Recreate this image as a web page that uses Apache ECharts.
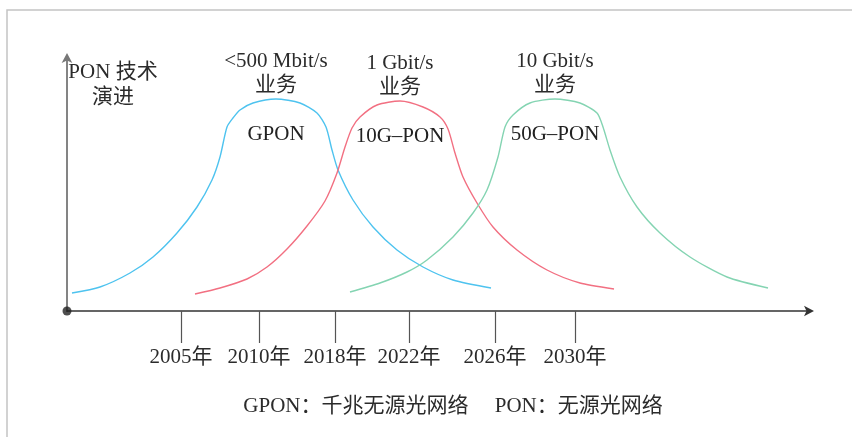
<!DOCTYPE html>
<html>
<head>
<meta charset="utf-8">
<script src="https://cdn.jsdelivr.net/npm/echarts@6/dist/echarts.min.js"></script>
<style>
  html, body { margin: 0; padding: 0; background: #fff; }
  #chart { width: 852px; height: 437px; }
</style>
</head>
<body>
<div id="chart"></div>
<script>
// Timeline positions (abstract units along the x axis) and their year labels
const tickPositions = [114, 192, 268, 342, 428, 508];
const tickYears = ['2005年', '2010年', '2018年', '2022年', '2026年', '2030年'];

// Adoption curves: [timeline position, adoption level]
const gponCurve = [
  [5, 18], [33, 24], [63, 38], [86, 54], [110, 78], [130, 104], [145, 131], [153, 154],
  [160, 184], [166, 193], [173, 201], [186, 208], [209, 212], [233, 208], [250, 198],
  [259, 184], [265, 161], [271, 141], [286, 111], [306, 84], [330, 61], [356, 44],
  [386, 31], [424, 23]
];
const tenGponCurve = [
  [128, 17], [153, 23], [180, 32], [200, 44], [220, 62], [240, 85], [258, 110], [270, 138],
  [278, 164], [285, 183], [293, 194], [310, 206], [333, 210], [356, 204], [373, 194],
  [381, 182], [388, 158], [396, 134], [410, 108], [426, 84], [450, 61], [480, 41],
  [513, 28], [547, 22]
];
const fiftyGponCurve = [
  [283, 19], [313, 28], [340, 39], [360, 51], [386, 74], [406, 98], [420, 121], [431, 154],
  [438, 184], [446, 196], [463, 208], [488, 212], [513, 208], [530, 198], [536, 184],
  [543, 161], [553, 134], [570, 104], [593, 78], [623, 54], [660, 34], [701, 23]
];

const techNames = ['GPON', '10G–PON', '50G–PON'];
const serviceRates = ['<500 Mbit/s', '1 Gbit/s', '10 Gbit/s'];
const serviceWord = '业务';
const yAxisTitle = 'PON 技术\n演进';
const footnote = 'GPON：千兆无源光网络     PON：无源光网络';

const FONT = "'Liberation Serif', 'Noto Sans CJK SC', serif";
const colors = ['#4ec3ef', '#f27082', '#84d4b2'];
const curves = [gponCurve, tenGponCurve, fiftyGponCurve];

function curveSeries(i) {
  return {
    type: 'line',
    data: curves[i],
    smooth: 0.25,
    showSymbol: false,
    lineStyle: { color: colors[i], width: 1.4 },
    silent: true,
    markPoint: {
      symbol: 'circle',
      symbolSize: 1,
      itemStyle: { color: 'transparent' },
      data: [
        {
          type: 'max',
          label: {
            show: true, position: 'top', distance: 1,
            formatter: serviceRates[i] + '\n' + serviceWord,
            fontFamily: FONT, fontSize: 21, lineHeight: 24, color: '#2b2b2b', align: 'center'
          }
        },
        {
          type: 'max',
          label: {
            show: true, position: 'bottom', distance: 24,
            formatter: techNames[i],
            fontFamily: FONT, fontSize: 21, color: '#222'
          }
        }
      ]
    }
  };
}

const chart = echarts.init(document.getElementById('chart'), null, { renderer: 'canvas' });
chart.setOption({
  animation: false,
  backgroundColor: '#fff',
  grid: { left: 67, top: 57, width: 743, height: 254 },
  title: {
    text: footnote,
    left: 448, top: 391, textAlign: 'center',
    textStyle: { fontFamily: FONT, fontSize: 21, fontWeight: 'normal', color: '#2b2b2b' }
  },
  graphic: [
    {
      type: 'rect', silent: true,
      shape: { x: 7, y: 10, width: 860, height: 440 },
      style: { fill: 'none', stroke: '#c4c4c4', lineWidth: 1.5 }
    },
    {
      type: 'text', silent: true, x: 113, y: 60,
      style: {
        text: yAxisTitle, fontFamily: FONT, fontSize: 21, lineHeight: 25,
        fill: '#2b2b2b', align: 'center'
      }
    }
  ],
  xAxis: {
    type: 'value', min: 0, max: 743,
    splitLine: { show: false },
    axisLine: {
      show: true, onZero: false,
      symbol: ['none', 'arrow'], symbolSize: [8, 10], symbolOffset: [0, 4],
      lineStyle: { color: '#333', width: 1.5 }
    },
    axisTick: {
      show: true, customValues: tickPositions, length: 32,
      lineStyle: { color: '#555', width: 1.2 }
    },
    axisLabel: {
      show: true, customValues: tickPositions, margin: 36,
      formatter: v => tickYears[tickPositions.indexOf(v)] || '',
      fontFamily: FONT, fontSize: 21, color: '#2b2b2b'
    }
  },
  yAxis: {
    type: 'value', min: 0, max: 254,
    splitLine: { show: false },
    axisLine: {
      show: true, onZero: false,
      symbol: ['none', 'arrow'], symbolSize: [8, 10], symbolOffset: [0, 4],
      lineStyle: { color: '#777', width: 1.8 }
    },
    axisTick: { show: false },
    axisLabel: { show: false }
  },
  series: [
    curveSeries(0),
    curveSeries(1),
    curveSeries(2),
    {
      type: 'scatter', data: [[0, 0]], symbolSize: 9, clip: false, silent: true,
      itemStyle: { color: '#222' }, z: 5
    }
  ]
});
</script>
</body>
</html>
